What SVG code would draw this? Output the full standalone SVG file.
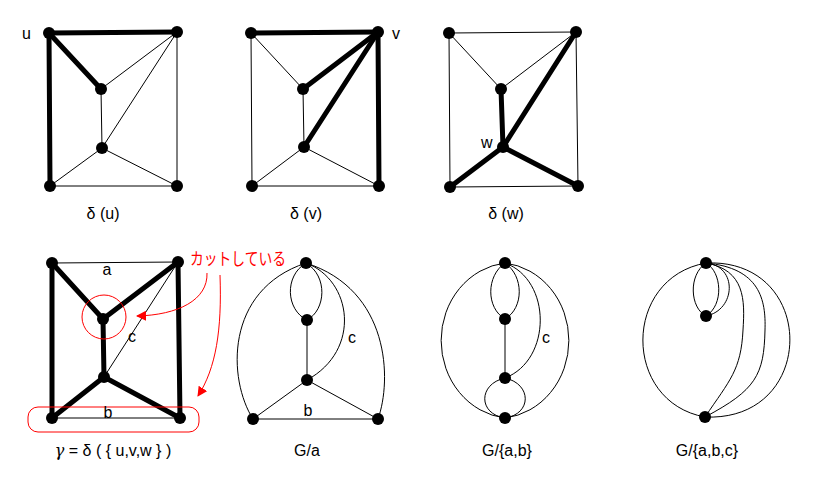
<svg xmlns="http://www.w3.org/2000/svg" width="820" height="490" viewBox="0 0 820 490">
<style>
.n{fill:#000}
.t{stroke:#000;stroke-width:1;fill:none}
.k{stroke:#000;stroke-width:5;fill:none;stroke-linecap:round}
.lbl{font-family:"Liberation Sans",Arial,sans-serif;font-size:16px;fill:#000}
.red{stroke:#f00;stroke-width:1;fill:none}
</style>
<defs>
<marker id="ah" viewBox="0 0 10 10" refX="9" refY="5" markerWidth="10" markerHeight="10" markerUnits="userSpaceOnUse" orient="auto">
<path d="M0,0 L10,5 L0,10 z" fill="#f00"/>
</marker>
</defs>
<rect width="820" height="490" fill="#fff"/>
<g id="connectors">
<!-- delta(u) -->
<line class="t" x1="177" y1="32" x2="101" y2="89"/>
<line class="t" x1="177" y1="32" x2="102" y2="148"/>
<line class="t" x1="177" y1="32" x2="177" y2="186"/>
<line class="t" x1="101" y1="89" x2="102" y2="148"/>
<line class="t" x1="102" y1="148" x2="50" y2="186"/>
<line class="t" x1="102" y1="148" x2="177" y2="186"/>
<line class="t" x1="50" y1="186" x2="177" y2="186"/>
<line class="k" x1="49" y1="33" x2="177" y2="32"/>
<line class="k" x1="49" y1="33" x2="101" y2="89"/>
<line class="k" x1="49" y1="33" x2="50" y2="186"/>
<!-- delta(v) -->
<line class="t" x1="251" y1="33" x2="303" y2="89"/>
<line class="t" x1="251" y1="33" x2="252" y2="186"/>
<line class="t" x1="303" y1="89" x2="304" y2="147"/>
<line class="t" x1="304" y1="147" x2="252" y2="186"/>
<line class="t" x1="304" y1="147" x2="379" y2="186"/>
<line class="t" x1="252" y1="186" x2="379" y2="186"/>
<line class="k" x1="251" y1="33" x2="378" y2="32"/>
<line class="k" x1="378" y1="32" x2="303" y2="89"/>
<line class="k" x1="378" y1="32" x2="304" y2="147"/>
<line class="k" x1="378" y1="32" x2="379" y2="186"/>
<!-- delta(w) -->
<line class="t" x1="449" y1="33" x2="576" y2="32"/>
<line class="t" x1="449" y1="33" x2="501" y2="89"/>
<line class="t" x1="576" y1="32" x2="501" y2="89"/>
<line class="t" x1="449" y1="33" x2="450" y2="187"/>
<line class="t" x1="576" y1="32" x2="578" y2="186"/>
<line class="t" x1="450" y1="187" x2="578" y2="186"/>
<line class="k" x1="503" y1="147" x2="501" y2="89"/>
<line class="k" x1="503" y1="147" x2="576" y2="32"/>
<line class="k" x1="503" y1="147" x2="450" y2="187"/>
<line class="k" x1="503" y1="147" x2="578" y2="186"/>
<!-- gamma -->
<line class="t" x1="52" y1="263" x2="178" y2="262"/>
<line class="t" x1="178" y1="262" x2="104" y2="377"/>
<line class="t" x1="52" y1="418" x2="180" y2="418"/>
<line class="k" x1="52" y1="263" x2="103" y2="319"/>
<line class="k" x1="178" y1="262" x2="103" y2="319"/>
<line class="k" x1="52" y1="263" x2="52" y2="418"/>
<line class="k" x1="178" y1="262" x2="180" y2="418"/>
<line class="k" x1="103" y1="319" x2="104" y2="377"/>
<line class="k" x1="104" y1="377" x2="52" y2="418"/>
<line class="k" x1="104" y1="377" x2="180" y2="418"/>
<!-- G/a -->
<path class="t" d="M306,263 C284,276 286,310 307,320"/>
<path class="t" d="M306,263 C328,276 326,310 307,320"/>
<line class="t" x1="307" y1="320" x2="307" y2="380"/>
<path class="t" d="M306,263 C352,280 362,350 307,380"/>
<path class="t" d="M306,263 C224,290 228,380 253,419"/>
<path class="t" d="M306,263 C390,290 392,380 378,419"/>
<line class="t" x1="307" y1="380" x2="253" y2="419"/>
<line class="t" x1="307" y1="380" x2="378" y2="419"/>
<line class="t" x1="253" y1="419" x2="378" y2="419"/>
<!-- G/{a,b} -->
<path class="t" d="M505,263 A72,78 0 0 0 505,418"/>
<path class="t" d="M505,263 A72,78 0 0 1 505,418"/>
<path class="t" d="M505,263 C486,276 486,308 505,319"/>
<path class="t" d="M505,263 C524,276 524,308 505,319"/>
<line class="t" x1="505" y1="319" x2="505" y2="378"/>
<path class="t" d="M505,263 C552,280 552,360 505,378"/>
<path class="t" d="M505,378 C478,384 478,414 505,418"/>
<path class="t" d="M505,378 C532,384 532,414 505,418"/>
<!-- G/{a,b,c} -->
<path class="t" d="M706,263 C622,278 622,402 705,417"/>
<path class="t" d="M706,263 C818,258 818,422 705,417"/>
<path class="t" d="M706,263 C688,275 690,308 706,316"/>
<path class="t" d="M706,263 C722,272 724,305 706,316"/>
<path class="t" d="M706,263 C738,266 736,310 706,316"/>
<path class="t" d="M706,263 C745,270 745,300 743,330 C741,370 730,380 705,417"/>
<path class="t" d="M706,263 C760,268 766,300 765,330 C764,375 756,390 705,417"/>
<!-- red annotations -->
<circle class="red" cx="104" cy="317" r="22"/>
<rect class="red" x="28" y="407" width="171" height="25" rx="10"/>
<path class="red" d="M207,273 C208,300 178,315 137,316" marker-end="url(#ah)"/>
<path class="red" d="M220,275 C222,330 216,368 198,396" marker-end="url(#ah)"/>
</g>
<g id="node-du">
<circle class="n" cx="49" cy="33" r="6"/><circle class="n" cx="177" cy="32" r="6"/>
<circle class="n" cx="101" cy="89" r="6"/><circle class="n" cx="102" cy="148" r="6"/>
<circle class="n" cx="50" cy="186" r="6"/><circle class="n" cx="177" cy="186" r="6"/>
<text class="lbl" x="22" y="39">u</text>
<text class="lbl" x="103" y="219" text-anchor="middle">δ (u)</text>
</g>
<g id="node-dv">
<circle class="n" cx="251" cy="33" r="6"/><circle class="n" cx="378" cy="32" r="6"/>
<circle class="n" cx="303" cy="89" r="6"/><circle class="n" cx="304" cy="147" r="6"/>
<circle class="n" cx="252" cy="186" r="6"/><circle class="n" cx="379" cy="186" r="6"/>
<text class="lbl" x="392" y="39">v</text>
<text class="lbl" x="306" y="219" text-anchor="middle">δ (v)</text>
</g>
<g id="node-dw">
<circle class="n" cx="449" cy="33" r="6"/><circle class="n" cx="576" cy="32" r="6"/>
<circle class="n" cx="501" cy="89" r="6"/><circle class="n" cx="503" cy="147" r="6"/>
<circle class="n" cx="450" cy="187" r="6"/><circle class="n" cx="578" cy="186" r="6"/>
<text class="lbl" x="481" y="148">w</text>
<text class="lbl" x="506" y="219" text-anchor="middle">δ (w)</text>
</g>
<g id="node-gamma">
<circle class="n" cx="52" cy="263" r="6"/><circle class="n" cx="178" cy="262" r="6"/>
<circle class="n" cx="103" cy="319" r="6"/><circle class="n" cx="104" cy="377" r="6"/>
<circle class="n" cx="52" cy="418" r="6"/><circle class="n" cx="180" cy="418" r="6"/>
<text class="lbl" x="107" y="275" text-anchor="middle">a</text>
<text class="lbl" x="132" y="342" text-anchor="middle">c</text>
<text class="lbl" x="108" y="418" text-anchor="middle">b</text>
<text class="lbl" x="113" y="456" text-anchor="middle"><tspan font-family="'DejaVu Serif',serif" font-style="italic">γ</tspan> = δ ( { u,v,w } )</text>
<text x="190" y="265" font-family="'Noto Sans CJK JP',sans-serif" font-size="17" textLength="96" lengthAdjust="spacingAndGlyphs" fill="#f00">カットしている</text>
</g>
<g id="node-Ga">
<circle class="n" cx="306" cy="263" r="6"/><circle class="n" cx="307" cy="320" r="6"/>
<circle class="n" cx="307" cy="380" r="6"/><circle class="n" cx="253" cy="419" r="6"/>
<circle class="n" cx="378" cy="419" r="6"/>
<text class="lbl" x="352" y="343" text-anchor="middle">c</text>
<text class="lbl" x="308" y="416" text-anchor="middle">b</text>
<text class="lbl" x="307" y="456" text-anchor="middle">G/a</text>
</g>
<g id="node-Gab">
<circle class="n" cx="505" cy="263" r="6"/><circle class="n" cx="505" cy="319" r="6"/>
<circle class="n" cx="505" cy="378" r="6"/><circle class="n" cx="505" cy="418" r="6"/>
<text class="lbl" x="546" y="343" text-anchor="middle">c</text>
<text class="lbl" x="507" y="456" text-anchor="middle">G/{a,b}</text>
</g>
<g id="node-Gabc">
<circle class="n" cx="706" cy="263" r="6"/><circle class="n" cx="706" cy="316" r="6"/>
<circle class="n" cx="705" cy="417" r="6"/>
<text class="lbl" x="707" y="456" text-anchor="middle">G/{a,b,c}</text>
</g>
</svg>
